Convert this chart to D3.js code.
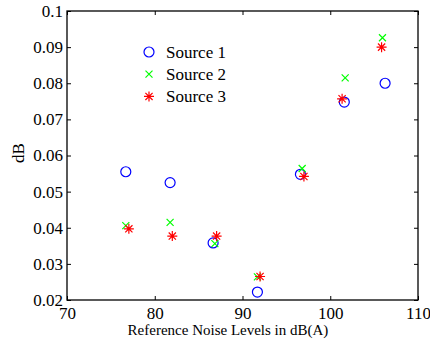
<!DOCTYPE html>
<html>
<head>
<meta charset="utf-8">
<script src="https://cdn.jsdelivr.net/npm/d3@7"></script>
<style>
  body { margin: 0; background: #fff; }
  svg text { font-family: "Liberation Serif", "Times New Roman", serif; fill: #000; }
</style>
</head>
<body>
<div id="chart"></div>
<script>
// values
const xTicks = [70, 80, 90, 100, 110];
const yTicks = [0.02, 0.03, 0.04, 0.05, 0.06, 0.07, 0.08, 0.09, 0.1];

const source1X = [76.7, 81.75, 86.65, 91.7, 96.6, 101.6, 106.25];
const source1Y = [0.0555, 0.0525, 0.0358, 0.0222, 0.0548, 0.0748, 0.0800];

const source2X = [76.7, 81.75, 86.85, 91.7, 96.8, 101.7, 105.95];
const source2Y = [0.0406, 0.0415, 0.0356, 0.0264, 0.0564, 0.0815, 0.0926];

const source3X = [77.05, 82.0, 87.05, 92.0, 97.0, 101.35, 105.85];
const source3Y = [0.0397, 0.0377, 0.0377, 0.0265, 0.0542, 0.0757, 0.0900];

const seriesNames = ["Source 1", "Source 2", "Source 3"];

const width = 430, height = 342;
const margin = { top: 11, right: 12, bottom: 42, left: 67 };
const innerW = width - margin.left - margin.right;
const innerH = height - margin.top - margin.bottom;

const svg = d3.select("#chart").append("svg")
  .attr("width", width)
  .attr("height", height);

const g = svg.append("g")
  .attr("transform", `translate(${margin.left},${margin.top})`);

const x = d3.scaleLinear().domain([70, 110]).range([0, innerW]);
const y = d3.scaleLinear().domain([0.02, 0.1]).range([innerH, 0]);

// axes with inward ticks, box on all sides like matlab
const tickLen = 4;
g.append("g")
  .attr("transform", `translate(0,${innerH})`)
  .call(d3.axisBottom(x).tickValues(xTicks).tickSize(-tickLen).tickPadding(7).tickFormat(d3.format("d")))
  .call(a => a.select(".domain").remove())
  .selectAll("text").attr("font-size", "17px").attr("dy", "0.71em");

g.append("g")
  .call(d3.axisTop(x).tickValues(xTicks).tickSize(-tickLen).tickFormat(""))
  .call(a => a.select(".domain").remove());

g.append("g")
  .call(d3.axisLeft(y).tickValues(yTicks).tickSize(-tickLen).tickPadding(4).tickFormat(d => d3.format("")(+d.toFixed(2))))
  .call(a => a.select(".domain").remove())
  .selectAll("text").attr("font-size", "17px");

g.append("g")
  .attr("transform", `translate(${innerW},0)`)
  .call(d3.axisRight(y).tickValues(yTicks).tickSize(-tickLen).tickFormat(""))
  .call(a => a.select(".domain").remove());

g.append("rect")
  .attr("width", innerW)
  .attr("height", innerH)
  .attr("fill", "none")
  .attr("stroke", "#000")
  .attr("stroke-width", 1.3);

// markers
function circleMark(sel, cx, cy) {
  sel.append("circle")
    .attr("cx", cx).attr("cy", cy).attr("r", 5)
    .attr("fill", "none").attr("stroke", "#0000ff").attr("stroke-width", 1.2);
}
function crossMark(sel, cx, cy) {
  const s = 3.5;
  sel.append("path")
    .attr("d", `M${cx - s},${cy - s}L${cx + s},${cy + s}M${cx - s},${cy + s}L${cx + s},${cy - s}`)
    .attr("stroke", "#00ff00").attr("stroke-width", 1.2).attr("fill", "none");
}
function starMark(sel, cx, cy) {
  const s = 5, d = 3.6;
  sel.append("path")
    .attr("d", `M${cx - s},${cy}L${cx + s},${cy}M${cx},${cy - s}L${cx},${cy + s}` +
      `M${cx - d},${cy - d}L${cx + d},${cy + d}M${cx - d},${cy + d}L${cx + d},${cy - d}`)
    .attr("stroke", "#ff0000").attr("stroke-width", 1.2).attr("fill", "none");
}

const series = [
  { xs: source1X, ys: source1Y, mark: circleMark },
  { xs: source2X, ys: source2Y, mark: crossMark },
  { xs: source3X, ys: source3Y, mark: starMark }
];

series.forEach(s => {
  const grp = g.append("g");
  s.xs.forEach((v, i) => s.mark(grp, x(v), y(s.ys[i])));
});

// legend
const legend = svg.append("g").attr("transform", "translate(149,52)");
seriesNames.forEach((name, i) => {
  const row = legend.append("g").attr("transform", `translate(0,${i * 22.2})`);
  series[i].mark(row, 0, 0);
  row.append("text")
    .attr("x", 17)
    .attr("y", 5.5)
    .attr("font-size", "17px")
    .text(name);
});

// axis labels
svg.append("text")
  .attr("x", 228)
  .attr("y", 335)
  .attr("text-anchor", "middle")
  .attr("font-size", "15px")
  .text("Reference Noise Levels in dB(A)");

svg.append("text")
  .attr("transform", "rotate(-90)")
  .attr("x", -153)
  .attr("y", 24)
  .attr("text-anchor", "middle")
  .attr("font-size", "17px")
  .text("dB");
</script>
</body>
</html>
